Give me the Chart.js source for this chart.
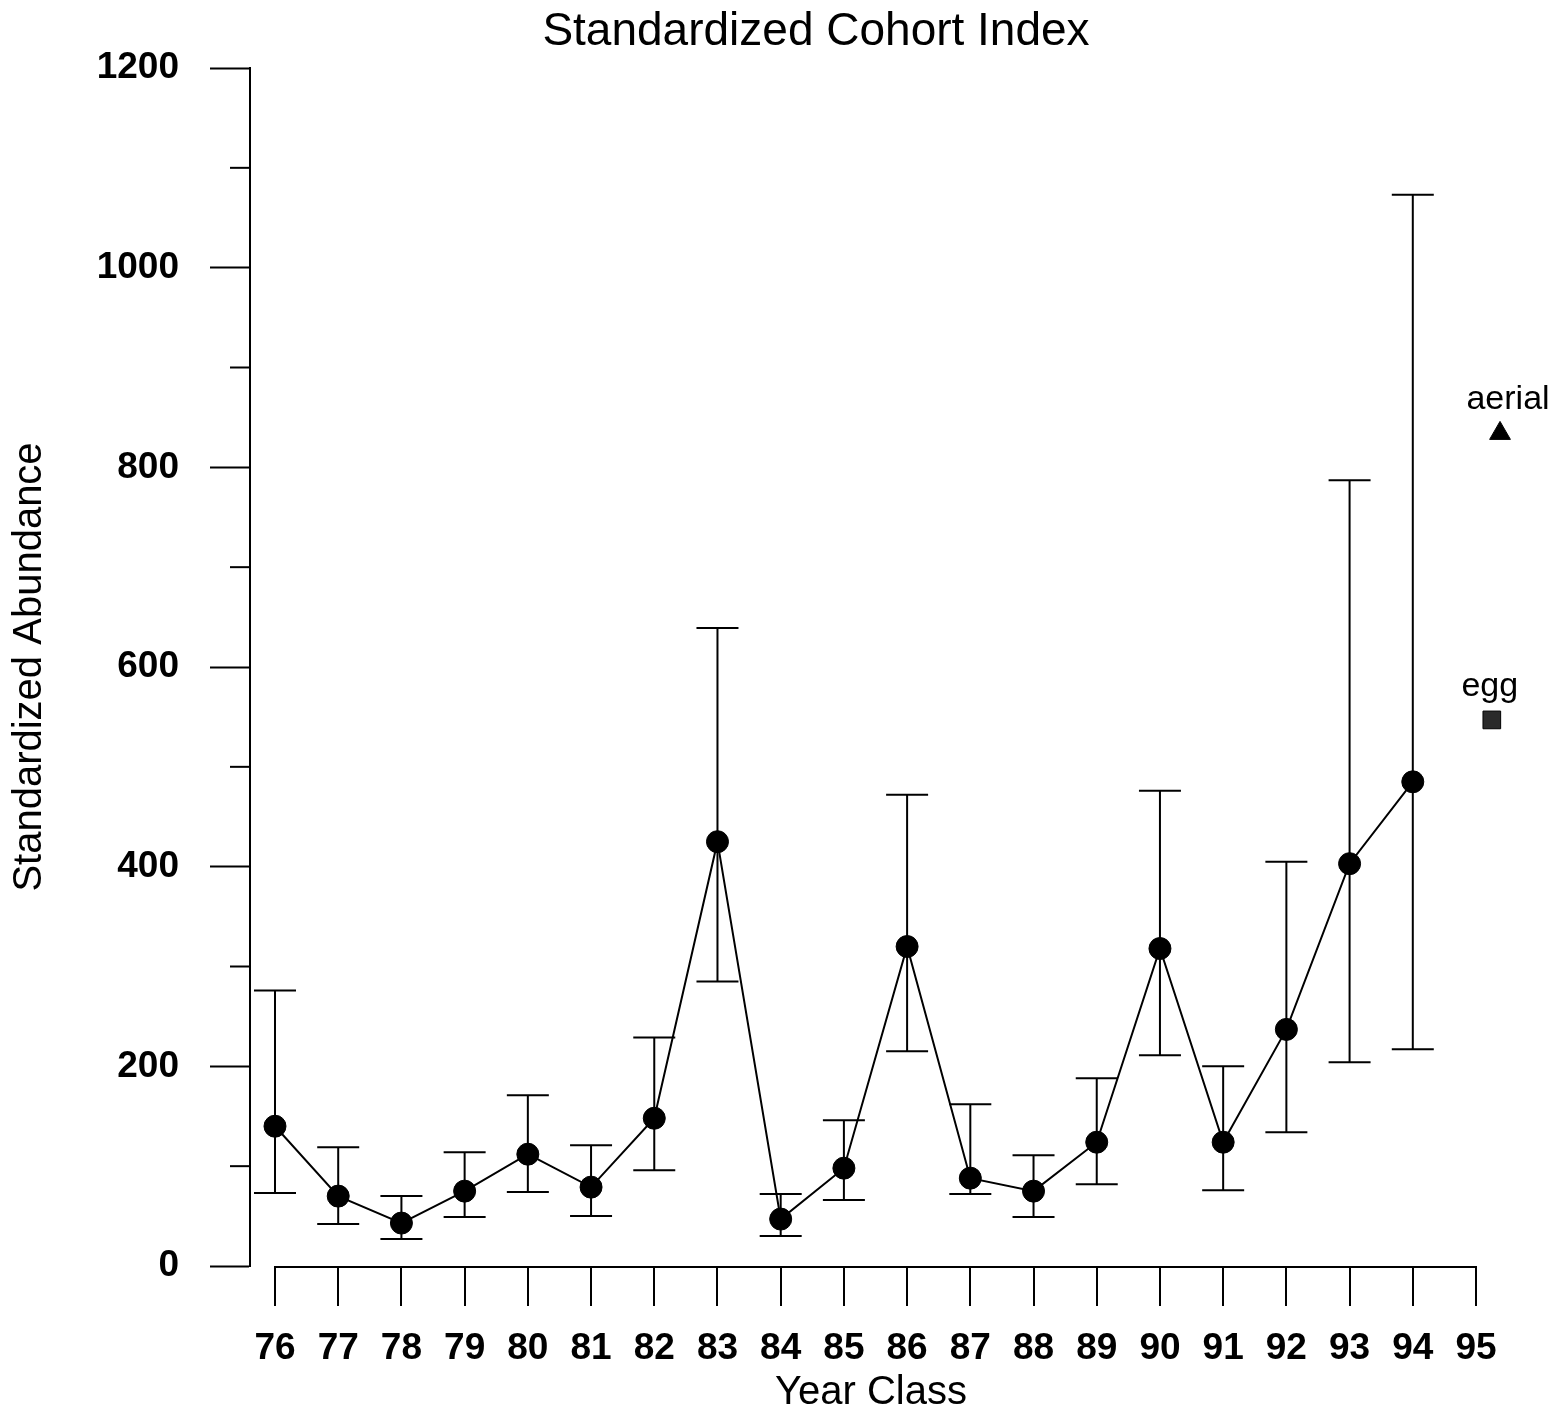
<!DOCTYPE html>
<html>
<head>
<meta charset="utf-8">
<script src="https://cdn.jsdelivr.net/npm/chart.js@4/dist/chart.umd.min.js"></script>
<style>
  html, body { margin: 0; padding: 0; background: #ffffff; }
  #wrap { width: 1566px; height: 1413px; }
</style>
</head>
<body>
<div id="wrap"><canvas id="c" width="1566" height="1413"></canvas></div>
<script>
// ---- data ----
const yearClasses = [76, 77, 78, 79, 80, 81, 82, 83, 84, 85, 86, 87, 88, 89, 90, 91, 92, 93, 94];
const abundance   = [140, 70, 43, 75, 112, 79, 148, 425, 47, 98, 320, 88, 75, 124, 318, 124, 237, 403, 485];
const upperBound  = [276, 119, 70, 114, 171, 121, 229, 639, 72, 146, 472, 162, 111, 188, 476, 200, 405, 787, 1073];
const lowerBound  = [73, 42, 27, 49, 74, 50, 96, 285, 30, 66, 215, 72, 49, 82, 211, 76, 134, 204, 217];
const xTickLabels = [76, 77, 78, 79, 80, 81, 82, 83, 84, 85, 86, 87, 88, 89, 90, 91, 92, 93, 94, 95];
const yTickValues = [0, 100, 200, 300, 400, 500, 600, 700, 800, 900, 1000, 1100, 1200];
const aerialYear  = [95];
const aerialValue = [834];
const eggYear     = [95];
const eggValue    = [547];
const chartTitle  = 'Standardized Cohort Index';

const FONT = '"Liberation Sans", Arial, Helvetica, sans-serif';

const mainData = yearClasses.map((x, i) => ({ x: x, y: abundance[i] }));
// the two extra indices are drawn just right of the last tick
const aerialData = aerialYear.map((x, i) => ({ x: x + 0.38, y: aerialValue[i] }));
const eggData = eggYear.map((x, i) => ({ x: x + 0.25, y: eggValue[i] }));

const errorBars = {
  id: 'errorBars',
  beforeDatasetsDraw(chart) {
    const ctx = chart.ctx, xs = chart.scales.x, ys = chart.scales.y;
    ctx.save();
    ctx.strokeStyle = '#000';
    ctx.lineWidth = 2;
    const half = 21;
    yearClasses.forEach((yr, i) => {
      const px = xs.getPixelForValue(yr);
      const top = ys.getPixelForValue(upperBound[i]);
      const bot = ys.getPixelForValue(lowerBound[i]);
      ctx.beginPath();
      ctx.moveTo(px, top); ctx.lineTo(px, bot);
      ctx.moveTo(px - half, top); ctx.lineTo(px + half, top);
      ctx.moveTo(px - half, bot); ctx.lineTo(px + half, bot);
      ctx.stroke();
    });
    ctx.restore();
  }
};

const axesExtras = {
  id: 'axesExtras',
  afterDraw(chart) {
    const ctx = chart.ctx, xs = chart.scales.x, ys = chart.scales.y;
    ctx.save();
    ctx.strokeStyle = '#000';
    ctx.lineWidth = 2;
    // x axis line spanning first to last tick
    const x0 = xs.getPixelForValue(xTickLabels[0]);
    const x1 = xs.getPixelForValue(xTickLabels[xTickLabels.length - 1]);
    ctx.beginPath();
    ctx.moveTo(x0 - 1, xs.top + 1); ctx.lineTo(x1 + 1, xs.top + 1);
    ctx.stroke();
    // minor y ticks (short)
    const ax = chart.chartArea.left;
    yTickValues.forEach(v => {
      if (v % 200 !== 0) {
        const py = ys.getPixelForValue(v);
        ctx.beginPath();
        ctx.moveTo(ax - 20, py); ctx.lineTo(ax, py);
        ctx.stroke();
      }
    });
    ctx.fillStyle = '#000';
    ctx.textAlign = 'center';
    ctx.textBaseline = 'middle';
    // chart title
    ctx.font = '46px ' + FONT;
    ctx.fillText(chartTitle, 816, 32);
    // labels for the extra indices
    ctx.font = '34px ' + FONT;
    const a = chart.getDatasetMeta(1).data[0];
    ctx.fillText('aerial', a.x + 8, a.y - 34);
    const e = chart.getDatasetMeta(2).data[0];
    ctx.fillText('egg', e.x - 2, e.y - 33);
    ctx.restore();
  }
};

new Chart(document.getElementById('c'), {
  type: 'line',
  data: {
    datasets: [
      {
        label: 'Standardized Abundance',
        data: mainData,
        borderColor: '#000',
        borderWidth: 2,
        pointRadius: 11,
        pointHoverRadius: 11,
        pointBackgroundColor: '#000',
        pointBorderColor: '#000',
        pointBorderWidth: 1,
        tension: 0,
        fill: false
      },
      {
        label: 'aerial',
        data: aerialData,
        showLine: false,
        pointStyle: 'triangle',
        pointRadius: 12,
        pointHoverRadius: 12,
        pointBackgroundColor: '#000',
        pointBorderColor: '#000',
        pointBorderWidth: 1,
        clip: false
      },
      {
        label: 'egg',
        data: eggData,
        showLine: false,
        pointStyle: 'rect',
        pointRadius: 12.5,
        pointHoverRadius: 12.5,
        pointBackgroundColor: '#2a2a2a',
        pointBorderColor: '#000',
        pointBorderWidth: 1,
        clip: false
      }
    ]
  },
  options: {
    responsive: false,
    animation: false,
    events: [],
    layout: { padding: { left: 0, right: 74, top: 68, bottom: 0 } },
    plugins: {
      legend: { display: false },
      tooltip: { enabled: false },
      title: { display: false }
    },
    scales: {
      x: {
        type: 'linear',
        min: 75.6045,
        max: 95.253,
        afterBuildTicks(scale) {
          scale.ticks = xTickLabels.map(v => ({ value: v }));
        },
        afterFit(scale) { scale.height = 147; },
        border: { display: false },
        grid: {
          display: true,
          drawOnChartArea: false,
          drawTicks: true,
          tickLength: 40,
          tickColor: '#000',
          tickWidth: 2,
          color: '#000',
          lineWidth: 2
        },
        ticks: {
          autoSkip: false,
          maxRotation: 0,
          color: '#000',
          padding: 21,
          font: { family: FONT, size: 37, weight: 'bold' },
          callback: v => String(v)
        },
        title: {
          display: true,
          text: 'Year Class',
          color: '#000',
          font: { family: FONT, size: 40, weight: 'normal', lineHeight: 1.0 },
          padding: { top: 0, bottom: 0 }
        }
      },
      y: {
        type: 'linear',
        min: 0,
        max: 1200,
        afterBuildTicks(scale) {
          scale.ticks = yTickValues.map(v => ({ value: v }));
        },
        afterFit(scale) { scale.width = 250; },
        border: { display: true, color: '#000', width: 2 },
        grid: {
          display: true,
          drawOnChartArea: false,
          drawTicks: true,
          tickLength: 40,
          tickWidth: 2,
          tickColor: ctx => (ctx.tick && ctx.tick.value % 200 === 0) ? '#000' : 'rgba(0,0,0,0)'
        },
        ticks: {
          color: '#000',
          padding: 31,
          font: { family: FONT, size: 37, weight: 'bold' },
          callback: v => (v % 200 === 0 ? String(v) : '')
        },
        title: {
          display: true,
          text: 'Standardized Abundance',
          color: '#000',
          font: { family: FONT, size: 40, weight: 'normal', lineHeight: 1.2 },
          padding: { top: 6, bottom: 0 }
        }
      }
    }
  },
  plugins: [errorBars, axesExtras]
});
</script>
</body>
</html>
